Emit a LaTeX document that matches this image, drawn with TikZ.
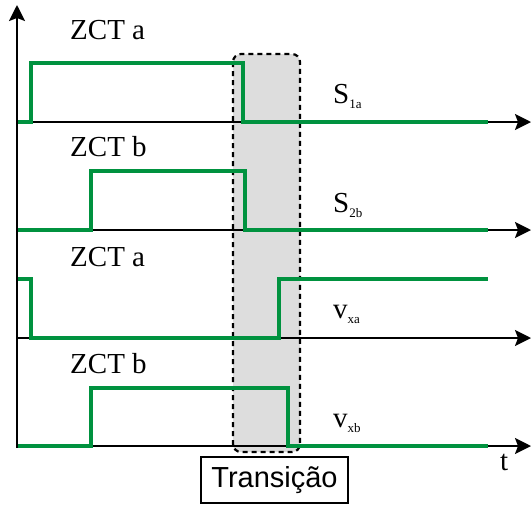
\documentclass[tikz,border=0pt]{standalone}
\usepackage{fontspec}
\setmainfont{Liberation Serif}
\newfontfamily\boxfont{Liberation Sans}
\usepackage{xcolor}
\usetikzlibrary{arrows.meta}
\definecolor{wgreen}{RGB}{0,146,63}
\definecolor{tgray}{RGB}{221,221,221}
\newcommand{\sigsub}[2]{#1\raisebox{-5pt}{\fontsize{13}{13}\selectfont #2}}

\tikzset{
  axisline/.style={black, line width=2pt, -{Stealth[length=16pt, width=16pt, inset=3pt]}},
  wave/.style={wgreen, line width=3.2pt, line join=miter},
  zctlabel/.style={font=\fontsize{29}{30}\selectfont, anchor=base west, inner sep=0pt},
  siglabel/.style={font=\fontsize{29}{30}\selectfont, anchor=base west, inner sep=0pt}
}

\begin{document}
\begin{tikzpicture}[x=1pt, y=-1pt]
\useasboundingbox (0,0) rectangle (532,504);
\fill[tgray, rounded corners=8pt] (233,54) rectangle (300,452);
\draw[black, line width=2.2pt, dash pattern=on 5pt off 4pt, rounded corners=8pt]
  (233,54) rectangle (300,452);
\draw[axisline] (17,448) -- (17,5);
\foreach \yb in {122,230,338,446}
  \draw[axisline] (16,\yb) -- (531,\yb);
\draw[wave] (18,122) -- (31,122) -- (31,63) -- (243,63) -- (243,122) -- (488,122);
\draw[wave] (18,230) -- (91,230) -- (91,171) -- (245,171) -- (245,230) -- (488,230);
\draw[wave] (18,279) -- (31,279) -- (31,338) -- (279,338) -- (279,279) -- (488,279);
\draw[wave] (18,446) -- (91,446) -- (91,388) -- (288,388) -- (288,446) -- (488,446);
\node[zctlabel] (zcta1) at (70,39) {ZCT a};
\node[zctlabel] (zctb1) at (70,156) {ZCT b};
\node[zctlabel] (zcta2) at (70,266) {ZCT a};
\node[zctlabel] (zctb2) at (70,373) {ZCT b};
\node[siglabel] (s1a) at (333,103) {\sigsub{S}{1a}};
\node[siglabel] (s2b) at (333,212) {\sigsub{S}{2b}};
\node[siglabel] (vxa) at (333,318) {\sigsub{v}{xa}};
\node[siglabel] (vxb) at (333,427) {\sigsub{v}{xb}};
\node[siglabel] (tlbl) at (500,470) {t};
\node[draw=black, line width=1.5pt, fill=white, font=\boxfont\fontsize{29}{30}\selectfont,
  minimum width=147pt, minimum height=46pt, inner sep=0pt] (trans) at (274.5,480) {Transição};
\end{tikzpicture}
\end{document}
